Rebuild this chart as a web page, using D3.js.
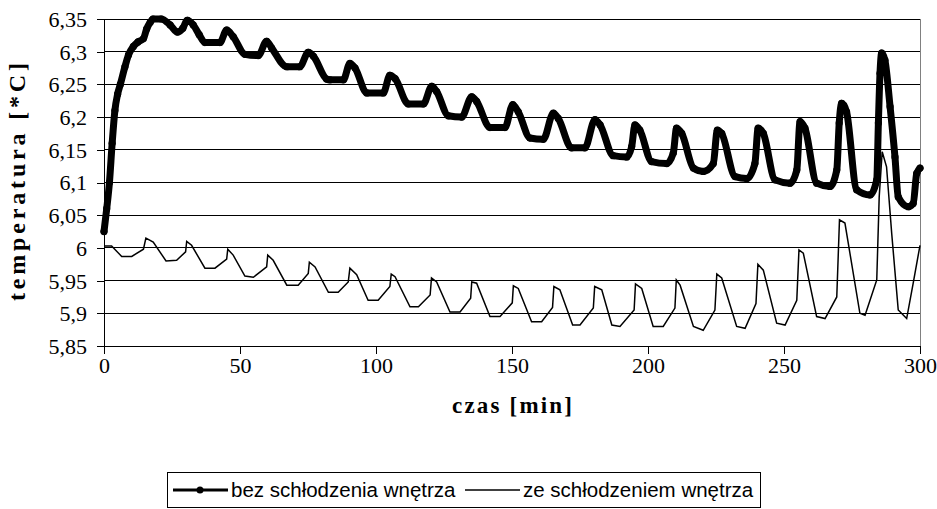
<!DOCTYPE html>
<html>
<head>
<meta charset="utf-8">
<script src="https://cdn.jsdelivr.net/npm/d3@7"></script>
<style>
  body { margin: 0; background: #fff; }
  svg { display: block; }
  .serif { font-family: "Liberation Serif", "Times New Roman", Times, "DejaVu Serif", serif; }
  .sans { font-family: "Liberation Sans", Arial, Helvetica, sans-serif; }
</style>
</head>
<body>
<div id="chart"></div>
<script>
// czas [min] i temperatura [*C]
var timeBez = [0, 1, 2, 3, 4, 5, 6, 7.7, 9, 10.8, 12.5, 14.5, 15.7, 17, 18, 21, 24.3, 27, 29, 30.6, 32.8, 35, 37.1, 42.6,
  45.1, 47.5, 51.8, 56.7, 59.8, 61.6, 67.2, 72, 75.1, 77, 81.9, 83.1, 88, 90.4, 92.3, 96.6, 102.7, 105.1, 107, 111.9,
  117.4, 120.5, 122.3, 126.6, 131.5, 135.2, 137, 141.9, 147.4, 150.3, 152.3, 156.6, 161.5, 165.2, 167, 171.9, 176.8,
  180.5, 182.4, 187.2, 192.2, 194, 195.2, 197, 201.3, 206.9, 209.3, 210.5, 212.4, 216.7, 220.3, 224, 225.5, 227.1,
  232, 236.3, 239.3, 240.5, 242.4, 246.7, 252.2, 254.7, 255.9, 257.7, 262, 266.9, 269.4, 270.3, 271.2, 273, 276.7,
  281.6, 284.1, 284.7, 285.3, 285.9, 287.1, 289, 290.8, 292, 295.7, 297.5, 298.8, 300];
var tempBez = [6.025, 6.06, 6.10, 6.16, 6.21, 6.235, 6.25, 6.277, 6.295, 6.308, 6.315, 6.32, 6.335, 6.345, 6.35, 6.35,
  6.341, 6.33, 6.336, 6.348, 6.341, 6.326, 6.314, 6.314, 6.333, 6.323, 6.296, 6.294, 6.316, 6.306, 6.277, 6.277,
  6.299, 6.293, 6.258, 6.257, 6.257, 6.282, 6.275, 6.237, 6.237, 6.264, 6.259, 6.22, 6.22, 6.247, 6.239, 6.202, 6.2,
  6.231, 6.224, 6.184, 6.184, 6.219, 6.208, 6.168, 6.166, 6.206, 6.198, 6.153, 6.153, 6.196, 6.188, 6.141, 6.139,
  6.155, 6.188, 6.18, 6.132, 6.129, 6.145, 6.183, 6.175, 6.122, 6.117, 6.129, 6.18, 6.175, 6.109, 6.106, 6.129,
  6.183, 6.175, 6.104, 6.099, 6.119, 6.193, 6.183, 6.099, 6.094, 6.119, 6.191, 6.221, 6.208, 6.089, 6.081, 6.104,
  6.191, 6.267, 6.298, 6.287, 6.216, 6.139, 6.078, 6.063, 6.068, 6.114, 6.122];

var timeZe = [0, 2.8, 6.5, 10.2, 14.5, 15.4, 18.1, 22.8, 26.7, 30, 30.4, 32.2, 37.1, 40.8, 45.1, 45.5, 47.5, 51.8, 54.9,
  59.8, 60.2, 62.2, 67.2, 71.4, 75.1, 75.5, 77.6, 82.5, 86.1, 89.8, 90.4, 92.9, 97.1, 100.8, 105.1, 105.6, 107, 112.5,
  115.6, 119.9, 120.4, 122.3, 127.2, 130.9, 134.8, 135.2, 137, 141.9, 145.6, 150.1, 150.5, 152.3, 157.2, 160.9, 164.9,
  165.4, 167.6, 172.3, 175, 179.9, 180.4, 183, 186.7, 189.7, 194.9, 195.4, 197.7, 201.9, 205.6, 209.9, 210.4, 211.8,
  216.7, 220.3, 224.6, 225.3, 227.1, 232.6, 235.7, 239.7, 240.4, 242.4, 247.3, 250.4, 254.7, 255.5, 257.1, 262, 265.1,
  269.4, 270.4, 272.4, 277.9, 279.8, 284.1, 285, 286.1, 287.7, 289.6, 292, 295.1, 297.5, 300];
var tempZe = [6.003, 6.003, 5.987, 5.987, 5.998, 6.015, 6.009, 5.98, 5.981, 5.994, 6.01, 6.004, 5.969, 5.969, 5.983,
  5.998, 5.989, 5.957, 5.955, 5.971, 5.989, 5.981, 5.943, 5.943, 5.961, 5.978, 5.971, 5.932, 5.932, 5.948, 5.969,
  5.959, 5.92, 5.92, 5.941, 5.96, 5.956, 5.91, 5.91, 5.928, 5.954, 5.948, 5.902, 5.902, 5.923, 5.948, 5.946, 5.895,
  5.895, 5.916, 5.942, 5.938, 5.887, 5.887, 5.909, 5.941, 5.936, 5.882, 5.882, 5.908, 5.941, 5.936, 5.882, 5.88,
  5.905, 5.945, 5.938, 5.88, 5.88, 5.908, 5.951, 5.943, 5.88, 5.874, 5.905, 5.96, 5.954, 5.88, 5.877, 5.915, 5.975,
  5.966, 5.885, 5.882, 5.92, 5.997, 5.992, 5.895, 5.892, 5.925, 6.043, 6.038, 5.9, 5.897, 5.951, 6.078, 6.147,
  6.124, 6.022, 5.905, 5.892, 5.946, 6.004];

var xTicks = [0, 50, 100, 150, 200, 250, 300];
var yTicks = [5.85, 5.9, 5.95, 6, 6.05, 6.1, 6.15, 6.2, 6.25, 6.3, 6.35];
var seriesNames = ["bez schłodzenia wnętrza", "ze schłodzeniem wnętrza"];

var W = 937, H = 509;
var margin = { top: 19, right: 17, bottom: 163, left: 104 },
    width = W - margin.left - margin.right,
    height = H - margin.top - margin.bottom;

var svg = d3.select("#chart").append("svg")
    .attr("width", W)
    .attr("height", H);

var g = svg.append("g")
    .attr("transform", "translate(" + margin.left + "," + margin.top + ")");

var scalex = d3.scaleLinear().domain([0, 300]).range([0, width]);
var scaley = d3.scaleLinear().domain([5.85, 6.35]).range([height, 0]);

function comma(v) { return String(+v.toFixed(2)).replace(".", ","); }

// gridlines
g.append("g")
    .selectAll("line")
    .data(yTicks)
    .enter().append("line")
    .attr("x1", 0).attr("x2", width)
    .attr("y1", function (d) { return scaley(d); })
    .attr("y2", function (d) { return scaley(d); })
    .attr("stroke", "#000")
    .attr("stroke-width", 1)
    .attr("shape-rendering", "crispEdges");

// plot border on the right
g.append("line")
    .attr("x1", width).attr("x2", width)
    .attr("y1", 0).attr("y2", height)
    .attr("stroke", "#808080")
    .attr("shape-rendering", "crispEdges");

// axes
var ax = g.append("g")
    .attr("transform", "translate(0," + height + ")")
    .call(d3.axisBottom(scalex).tickValues(xTicks).tickSizeInner(8).tickSizeOuter(0).tickPadding(3)
        .tickFormat(function (d) { return d; }));
var ay = g.append("g")
    .call(d3.axisLeft(scaley).tickValues(yTicks).tickSizeInner(7).tickSizeOuter(0).tickPadding(10)
        .tickFormat(comma));

[ax, ay].forEach(function (a) {
    a.attr("font-family", null).attr("font-size", null);
    a.selectAll("path, line").attr("stroke", "#000").attr("shape-rendering", "crispEdges");
    a.selectAll("text").attr("fill", "#000").attr("class", "serif").style("font-size", "22px");
});
ay.selectAll("text").attr("dy", "0.34em");

// series
var dataBez = timeBez.map(function (t, i) { return { time: t, temp: tempBez[i] }; });
var dataZe = timeZe.map(function (t, i) { return { time: t, temp: tempZe[i] }; });

var valueline = d3.line()
    .x(function (d) { return scalex(d.time); })
    .y(function (d) { return scaley(d.temp); })
    .curve(d3.curveMonotoneX);

g.append("path")
    .datum(dataZe)
    .attr("d", d3.line()
        .x(function (d) { return scalex(d.time); })
        .y(function (d) { return scaley(d.temp); }))
    .attr("fill", "none")
    .attr("stroke", "#000")
    .attr("stroke-width", 1.5)
    .attr("stroke-linejoin", "miter");

g.append("path")
    .datum(dataBez)
    .attr("d", valueline)
    .attr("fill", "none")
    .attr("stroke", "#000")
    .attr("stroke-width", 7)
    .attr("stroke-linejoin", "round")
    .attr("stroke-linecap", "round");

g.append("g")
    .selectAll("circle")
    .data(dataBez)
    .enter().append("circle")
    .attr("r", 3.6)
    .attr("cx", function (d) { return scalex(d.time); })
    .attr("cy", function (d) { return scaley(d.temp); })
    .attr("fill", "#000");

// axis titles
svg.append("text")
    .attr("class", "serif")
    .attr("x", 512).attr("y", 413)
    .attr("text-anchor", "middle")
    .attr("textLength", 120)
    .style("font-size", "23px").style("font-weight", "bold")
    .text("czas [min]");

svg.append("text")
    .attr("class", "serif")
    .attr("transform", "translate(25,182) rotate(-90)")
    .attr("text-anchor", "middle")
    .attr("textLength", 238)
    .style("font-size", "24px").style("font-weight", "bold")
    .text("temperatura [*C]");

// legend
var lg = svg.append("g").attr("transform", "translate(167,472)");
lg.append("rect")
    .attr("x", 0.5).attr("y", 0.5).attr("width", 593).attr("height", 35)
    .attr("fill", "#fff").attr("stroke", "#000");

lg.append("line").attr("x1", 6).attr("x2", 61).attr("y1", 18).attr("y2", 18)
    .attr("stroke", "#000").attr("stroke-width", 3);
lg.append("circle").attr("cx", 33).attr("cy", 18).attr("r", 3.5).attr("fill", "#000");
lg.append("text").attr("class", "sans").attr("x", 64).attr("y", 25)
    .style("font-size", "20.5px")
    .text(seriesNames[0]);

lg.append("line").attr("x1", 298).attr("x2", 353).attr("y1", 18).attr("y2", 18)
    .attr("stroke", "#000").attr("stroke-width", 1.5);
lg.append("text").attr("class", "sans").attr("x", 356).attr("y", 25)
    .style("font-size", "20.5px")
    .text(seriesNames[1]);
</script>
</body>
</html>
